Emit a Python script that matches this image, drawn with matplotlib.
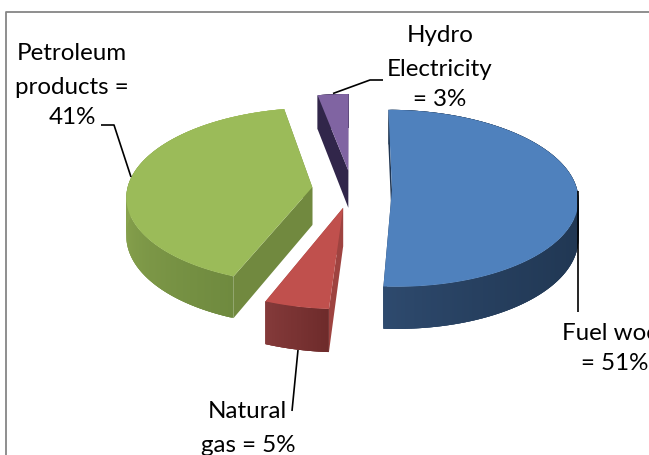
import matplotlib
matplotlib.use('Agg')
import matplotlib.pyplot as plt
import numpy as np
from matplotlib.colors import to_rgb

names = ['Fuel wood', 'Natural gas', 'Petroleum products', 'Hydro Electricity']
shares = [51, 5, 41, 3]

top_colors = ['#4F81BD', '#C0504D', '#9BBB59', '#8064A2']
edge_colors = ['#1F3552', '#9E4340', '#71893F', '#31264A']
# rim colour at the end of the slice with the smaller and the larger angle
rim_colors = [('#1F3550', '#2E4A6E'), ('#6E2B2B', '#843A3A'),
              ('#6F8A3F', '#A8C260'), ('#31264A', '#31264A')]
rim_power = [4, 1, 1, 1]

# view settings of the tilted pie, in pixels
RX = 185.0
RY = 87.5
PERSP = 0.098
CX = 352.0
CY = 189.0
DEPTH = 38.0
EXPLODE = 0.216


def project(u, v, drop=0.0):
    # u, v are disc coordinates in radii, v points away from the viewer
    s = 1.0 / (1.0 + PERSP * v)
    return CX + RX * u * s, CY - RY * v * s + drop * s


def draw_slice(ax, start, stop, top, edge, rim, power):
    mid = np.radians((start + stop) / 2)
    ou, ov = EXPLODE * np.sin(mid), EXPLODE * np.cos(mid)
    th = np.radians(np.linspace(start, stop, max(int(stop - start) * 2, 8)))
    us, vs = ou + np.sin(th), ov + np.cos(th)

    # the two cut faces
    for a_u, a_v in [(us[0], vs[0]), (us[-1], vs[-1])]:
        x0, y0 = project(ou, ov)
        x1, y1 = project(a_u, a_v)
        x2, y2 = project(a_u, a_v, DEPTH)
        x3, y3 = project(ou, ov, DEPTH)
        ax.fill([x0, x1, x2, x3], [y0, y1, y2, y3], color=edge, lw=0)

    # outer rim, quads overlap their neighbour so no seams show
    c0, c1 = np.array(to_rgb(rim[0])), np.array(to_rgb(rim[1]))
    for i in range(len(th) - 1):
        t = (i / (len(th) - 2)) ** power
        j = min(i + 3, len(th) - 1)
        x_a, y_a = project(us[i:j + 1], vs[i:j + 1])
        x_d, y_d = project(us[i:j + 1], vs[i:j + 1], DEPTH)
        ax.fill(np.r_[x_a, x_d[::-1]], np.r_[y_a, y_d[::-1]],
                color=tuple(c0 + (c1 - c0) * t), lw=0)

    # top face
    xt, yt = project(np.r_[ou, us], np.r_[ov, vs])
    ax.fill(xt, yt, color=top, lw=0)


fig = plt.figure(figsize=(6.49, 4.55), dpi=100)
ax = fig.add_axes([0, 0, 1, 1])
ax.set_xlim(0, 649)
ax.set_ylim(455, 0)
ax.axis('off')

# chart frame, runs past the right and bottom edge
ax.plot([6, 6, 660], [470, 12, 12], color='#868686', lw=1.3)

bounds = np.cumsum([0] + shares) * 3.6
# far slices first so the near ones overlap them
for i in [3, 2, 0, 1]:
    draw_slice(ax, bounds[i], bounds[i + 1], top_colors[i], edge_colors[i],
               rim_colors[i], rim_power[i])

# leader lines
line_kw = dict(color='black', lw=1.2, solid_capstyle='butt')
ax.plot([131, 114, 101], [177, 125, 125], **line_kw)
ax.plot([333, 370, 383], [93.5, 80, 80], **line_kw)
ax.plot([577.5, 577.5], [191, 312], **line_kw)
ax.plot([298, 292], [350, 411], **line_kw)

txt = dict(family='Lato', fontsize=17.4, color='black', ha='center', va='center')
ax.text(72, 54, 'Petroleum', **txt)
ax.text(72, 87, 'products =', **txt)
ax.text(72, 118, f'{shares[2]}%', **txt)
ax.text(440, 36, 'Hydro', **txt)
ax.text(440, 69, 'Electricity', **txt)
ax.text(440, 100, f'= {shares[3]}%', **txt)
ax.text(618, 333, 'Fuel wood', **txt)
ax.text(615, 364, f'= {shares[0]}%', **txt)
ax.text(247, 412, 'Natural', **txt)
ax.text(248, 445, f'gas = {shares[1]}%', **txt)

fig.savefig('out.png', dpi=100)
